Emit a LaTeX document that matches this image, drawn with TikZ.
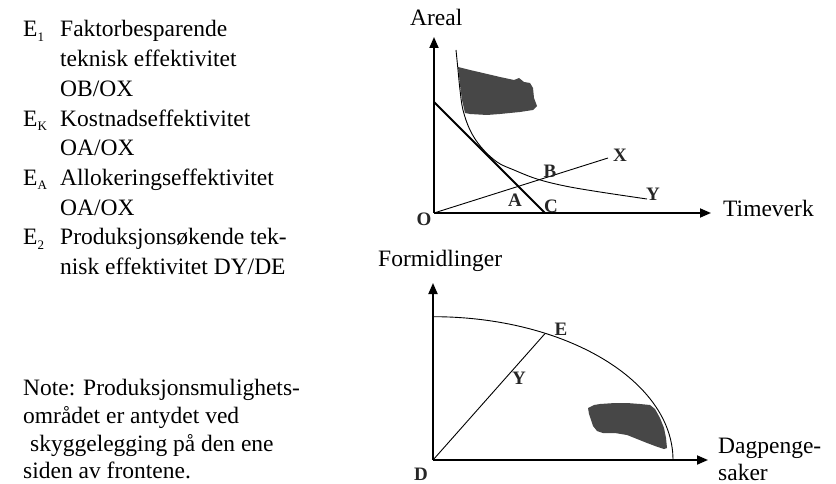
\documentclass[tikz,border=0pt]{standalone}
\usepackage{fontspec}
\setmainfont{Liberation Serif}
\usetikzlibrary{arrows.meta}
\newcommand\subE[1]{E\raisebox{-4.5pt}{\fontsize{13}{13}\selectfont #1}}
\begin{document}
\begin{tikzpicture}[x=1pt,y=-1pt,
  txt/.style={anchor=base west, inner sep=0pt, font=\fontsize{23.5}{28}\selectfont},
  lbl/.style={inner sep=0pt, font=\fontsize{19}{19}\selectfont\bfseries, text=black!85},
  axis/.style={line width=1.8pt, -{Triangle[length=11pt,width=9pt]}},
  budget/.style={line width=1.8pt},
  curve/.style={line width=0.9pt},
  blob/.style={fill=black!72, draw=none}]
\useasboundingbox (0,0) rectangle (836,484);

% ---------- left text ----------
\node[txt] (e1) at (23,37) {\subE{1}};
\node[txt] (t1) at (60,37) {Faktorbesparende};
\node[txt] (t2) at (60,66.7) {teknisk effektivitet};
\node[txt] (t3) at (60,96.4) {OB/OX};
\node[txt] (ek) at (23,126.1) {\subE{K}};
\node[txt] (t4) at (60,126.1) {Kostnadseffektivitet};
\node[txt] (t5) at (60,155.8) {OA/OX};
\node[txt] (ea) at (23,185.5) {\subE{A}};
\node[txt] (t6) at (60,185.5) {Allokeringseffektivitet};
\node[txt] (t7) at (60,215.2) {OA/OX};
\node[txt] (e2) at (23,244.9) {\subE{2}};
\node[txt] (t8) at (60,244.9) {Produksjonsøkende tek-};
\node[txt] (t9) at (60,274.6) {nisk effektivitet DY/DE};

\node[txt] (n1) at (23,395) {Note: Produksjonsmulighets-};
\node[txt] (n2) at (23,423) {området er antydet ved};
\node[txt] (n3) at (30,451.5) {skyggelegging på den ene};
\node[txt] (n4) at (23,478) {siden av frontene.};

% ---------- top plot ----------
\coordinate (O) at (434,213);
\coordinate (Ytop) at (434,37);
\coordinate (Xend) at (711,213);
\coordinate (Bstart) at (434,102);
\coordinate (Cpt) at (545,213);
\coordinate (Xpt) at (608,158);

\fill[blob] (458,67) -- (470,70) -- (483,73) -- (500,77) -- (514,80) -- (519,78)
  -- (524,82) -- (530,83) -- (533,88) -- (534,98) -- (537,106) -- (533,110)
  -- (520,112) -- (500,114) -- (487,115) -- (470,114) -- (465,113) -- (462,100)
  -- (460,85) -- (459,75) -- cycle;

\draw[axis] (O) -- (Ytop);
\draw[axis] (O) -- (Xend);
\draw[budget] (Bstart) -- (Cpt);
\draw[curve] (O) -- (Xpt);
\draw[curve] plot[smooth, tension=0.6] coordinates {(456,50) (458,70) (460,90) (463,110) (470,130) (481,147) (497,162) (514,170) (537,179) (565,186) (600,192) (647,199)};

\node[txt] (areal) at (410,26) {Areal};
\node[txt] (timeverk) at (723,217) {Timeverk};
\node[lbl] (lO) at (424,219) {O};
\node[lbl] (lA) at (515,200) {A};
\node[lbl] (lB) at (550,171) {B};
\node[lbl] (lC) at (551,206) {C};
\node[lbl] (lX) at (620,155) {X};
\node[lbl] (lY) at (653,194) {Y};

% ---------- bottom plot ----------
\coordinate (D) at (433,460);
\coordinate (Ytop2) at (433,283);
\coordinate (Xend2) at (708,460);
\coordinate (Ftop) at (433,316.7);
\coordinate (Ept) at (545,333.6);

\fill[blob] (588,408) -- (594,405) -- (600,404) -- (615,403) -- (627,403) -- (640,404)
  -- (650,405) -- (655,409) -- (660,418) -- (664,428) -- (666,438) -- (667,448)
  -- (664,449) -- (655,446) -- (647,443) -- (637,439) -- (627,435) -- (615,433)
  -- (603,433) -- (597,431) -- (593,426) -- (591,420) -- (589,414) -- cycle;

\draw[axis] (D) -- (Ytop2);
\draw[axis] (D) -- (Xend2);
\draw[curve] (Ftop) arc[start angle=-90, end angle=0, x radius=240, y radius=143.3];
\draw[curve] (D) -- (Ept);

\node[txt] (formid) at (378,266) {Formidlinger};
\node[txt] (dag1) at (718,453) {Dagpenge-};
\node[txt] (dag2) at (718,480) {saker};
\node[lbl] (lD) at (421,474) {D};
\node[lbl] (lE) at (561,329) {E};
\node[lbl] (lY2) at (519,378) {Y};
\end{tikzpicture}
\end{document}
